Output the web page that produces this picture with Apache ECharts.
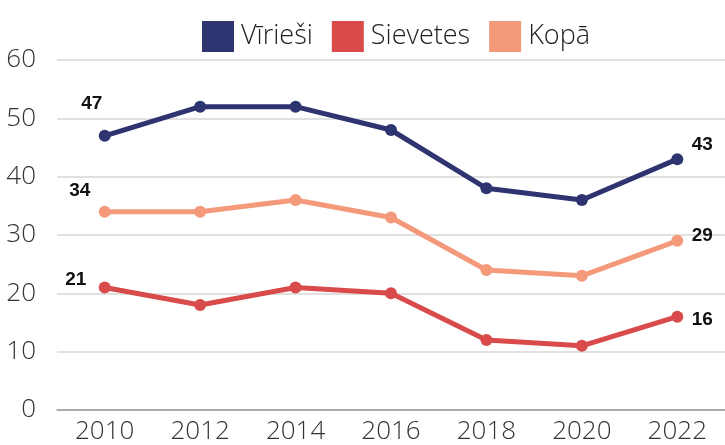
<!DOCTYPE html>
<html><head><meta charset="utf-8">
<script src="https://cdn.jsdelivr.net/npm/echarts@6/dist/echarts.min.js"></script>
<style>html,body{margin:0;padding:0;background:#fff}#c{width:725px;height:445px}</style>
</head><body><div id="c"></div>
<script>
const years = ['2010','2012','2014','2016','2018','2020','2022'];
const seriesNames = ['Vīrieši','Sievetes','Kopā'];
const viriesi = [47,52,52,48,38,36,43];
const sievetes = [21,18,21,20,12,11,16];
const kopa = [34,34,36,33,24,23,29];
const yTicks = [0,10,20,30,40,50,60];
const colors = ['#2e3470','#d94a4a','#f4997a'];
const firstOffsets = [[-13,-32],[-29,-8],[-25,-21]];
const lastOffsets = [[25,-14],[25,3],[25,-5]];
const FONT = '"Open Sans"';

function mk(vals, i){
  return vals.map((v,k)=>{
    const d = {value:v};
    if(k===0 || k===vals.length-1){
      d.label = {show:true, position:'inside', offset: k===0?firstOffsets[i]:lastOffsets[i],
        fontFamily:'"Liberation Sans"', fontWeight:'bold', fontSize:19, color:'#111'};
    }
    return d;
  });
}
const chart = echarts.init(document.getElementById('c'));
chart.setOption({
  animation:false,
  color: colors,
  legend:{top:16, left:197, itemWidth:32, itemHeight:31, itemGap:19,
    icon:'rect',
    textStyle:{fontFamily:FONT, fontWeight:300, fontSize:27, color:'#222', padding:[0,0,0,2]},
    data: seriesNames},
  grid:{left:57, top:60, width:675, height:350},
  xAxis:{type:'category', data:years, boundaryGap:true,
    axisLine:{lineStyle:{color:'#999', width:1.5}}, axisTick:{show:false},
    axisLabel:{fontFamily:FONT, fontWeight:300, fontSize:26, color:'#333', margin:9}},
  yAxis:{type:'value', min:0, max:60, interval:10,
    axisLine:{show:false}, axisTick:{show:false},
    splitLine:{lineStyle:{color:'#d6d6d6', width:1.5}},
    axisLabel:{fontFamily:FONT, fontWeight:300, fontSize:26, color:'#333', margin:21,
      formatter: v => yTicks.includes(v) ? String(v) : ''}},
  series:[viriesi, sievetes, kopa].map((vals,i)=>({
    name: seriesNames[i], type:'line', data: mk(vals,i),
    symbol:'circle', symbolSize:12, lineStyle:{width:5, color:colors[i]},
    itemStyle:{color:colors[i]}, z: i===0?3:2
  }))
});
</script></body></html>
